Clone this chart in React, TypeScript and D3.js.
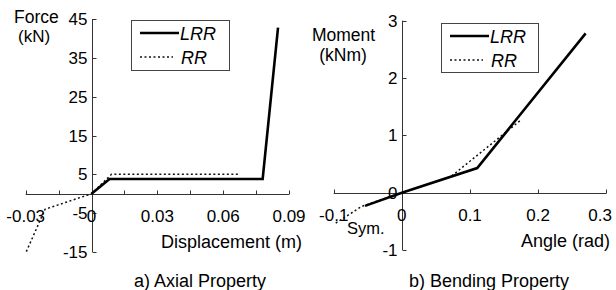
import React from 'react';
import * as d3 from 'd3';

// a) axial property
const axialLrrX = [0, 0.0082, 0.078, 0.085];
const axialLrrY = [0, 3.8, 3.8, 42.8];
const axialRrX = [-0.0297, -0.0212, 0, 0.0091, 0.0667];
const axialRrY = [-14.9, -4.0, 0, 5, 5];
const axialXTicks = [-0.03, -0.015, 0, 0.015, 0.03, 0.045, 0.06, 0.075, 0.09];
const axialXLabels = ['-0.03', '0', '0.03', '0.06', '0.09'];
const axialYTicks = [45, 35, 25, 15, 5, -5, -15];

// b) bending property
const bendLrrX = [-0.054, 0, 0.1106, 0.2697];
const bendLrrY = [-0.23, 0, 0.43, 2.78];
const bendRrX = [-0.097, -0.059, 0, 0.072, 0.175];
const bendRrY = [-0.53, -0.24, 0, 0.28, 1.27];
const bendXTicks = [-0.1, 0, 0.1, 0.2, 0.3];
const bendYTicks = [3, 2, 1, 0, -1];

const FONT = '"Liberation Sans", Arial, sans-serif';
const AXIS = '#333';
const W = 616;

type PanelProps = {
  x: d3.ScaleLinear<number, number>;
  y: d3.ScaleLinear<number, number>;
  xTicks: number[];
  xLabels: { v: number; t: string }[];
  yTicks: number[];
  lrr: [number, number][];
  rr: [number, number][];
  legend: { x: number; y: number; w: number; h: number };
};

const Panel = ({ x, y, xTicks, xLabels, yTicks, lrr, rr, legend }: PanelProps) => {
  const line = d3
    .line<[number, number]>()
    .x((d) => x(d[0]))
    .y((d) => y(d[1]));
  const x0 = Math.round(x(0)) + 0.5;
  const y0 = Math.round(y(0)) + 0.5;
  const [xa, xb] = x.range();
  const [ya, yb] = y.range();
  return (
    <g>
      {/* axes */}
      <line x1={xa} x2={xb} y1={y0} y2={y0} stroke={AXIS} />
      <line x1={x0} x2={x0} y1={ya} y2={yb} stroke={AXIS} />
      {xTicks.map((t) => (
        <line key={'xt' + t} x1={Math.round(x(t)) + 0.5} x2={Math.round(x(t)) + 0.5} y1={y0} y2={y0 - 4} stroke={AXIS} />
      ))}
      {yTicks.map((t) => (
        <line key={'yt' + t} x1={x0} x2={x0 + 4} y1={Math.round(y(t)) + 0.5} y2={Math.round(y(t)) + 0.5} stroke={AXIS} />
      ))}
      {xLabels.map((l) => {
        // keep the last label inside the picture
        const fits = x(l.v) + 13 < W;
        return (
          <text
            key={'xl' + l.t}
            x={fits ? x(l.v) : W - 4}
            y={y0 + 27}
            textAnchor={fits ? 'middle' : 'end'}
            fontSize={17}
          >
            {l.t}
          </text>
        );
      })}
      {yTicks.map((t) => (
        <text key={'yl' + t} x={x0 - 5} y={y(t)} dy="0.36em" textAnchor="end" fontSize={17}>
          {String(t)}
        </text>
      ))}
      {/* series */}
      <path d={line(rr) ?? ''} fill="none" stroke="#111" strokeWidth={1.5} strokeDasharray="2,2.5" />
      <path d={line(lrr) ?? ''} fill="none" stroke="#000" strokeWidth={2.6} strokeLinejoin="miter" />
      {/* legend */}
      <g transform={`translate(${legend.x},${legend.y})`}>
        <rect x={0.5} y={0.5} width={legend.w} height={legend.h} fill="#fff" stroke="#444" />
        <line x1={9} x2={48} y1={13} y2={13} stroke="#000" strokeWidth={2.6} />
        <text x={49} y={20} fontSize={18} fontStyle="italic">LRR</text>
        <line x1={9} x2={42} y1={37} y2={37} stroke="#111" strokeWidth={1.5} strokeDasharray="2,2.5" />
        <text x={50} y={44} fontSize={18} fontStyle="italic">RR</text>
      </g>
    </g>
  );
};

const App = () => {
  const ax = d3.scaleLinear().domain([-0.03, 0.09]).range([25.7, 289]);
  const ay = d3.scaleLinear().domain([-15, 45]).range([252, 19]);
  const bx = d3.scaleLinear().domain([-0.1, 0.3]).range([333.7, 606.3]);
  const by = d3.scaleLinear().domain([-1, 3]).range([250, 20.7]);

  const zip = (xs: number[], ys: number[]) => xs.map((v, i) => [v, ys[i]] as [number, number]);

  return (
    <svg
      width={W}
      height={290}
      style={{ position: 'absolute', left: 0, top: 0, background: '#fff' }}
      fontFamily={FONT}
      fill="#000"
    >
      <rect width={W} height={290} fill="#fff" />
      <Panel
        x={ax}
        y={ay}
        xTicks={axialXTicks}
        xLabels={axialXLabels.map((t) => ({ v: +t, t }))}
        yTicks={axialYTicks}
        lrr={zip(axialLrrX, axialLrrY)}
        rr={zip(axialRrX, axialRrY)}
        legend={{ x: 131, y: 20, w: 98, h: 50 }}
      />
      <text x={14} y={23} fontSize={17.5}>Force</text>
      <text x={18} y={42} fontSize={17}>(kN)</text>
      <text x={302} y={248} fontSize={18} textAnchor="end">Displacement (m)</text>
      <text x={200} y={287} fontSize={18} textAnchor="middle">a) Axial Property</text>

      <Panel
        x={bx}
        y={by}
        xTicks={bendXTicks}
        xLabels={bendXTicks.map((v) => ({ v, t: String(v) }))}
        yTicks={bendYTicks}
        lrr={zip(bendLrrX, bendLrrY)}
        rr={zip(bendRrX, bendRrY)}
        legend={{ x: 441, y: 23, w: 97, h: 49 }}
      />
      <text x={343.5} y={41} fontSize={17.5} textAnchor="middle">Moment</text>
      <text x={343} y={61} fontSize={17.5} textAnchor="middle">(kNm)</text>
      <text x={347} y={234} fontSize={16.5}>Sym.</text>
      <text x={610} y={247} fontSize={18} textAnchor="end">Angle (rad)</text>
      <text x={489} y={287} fontSize={18} textAnchor="middle">b) Bending Property</text>
    </svg>
  );
};

export default App;
